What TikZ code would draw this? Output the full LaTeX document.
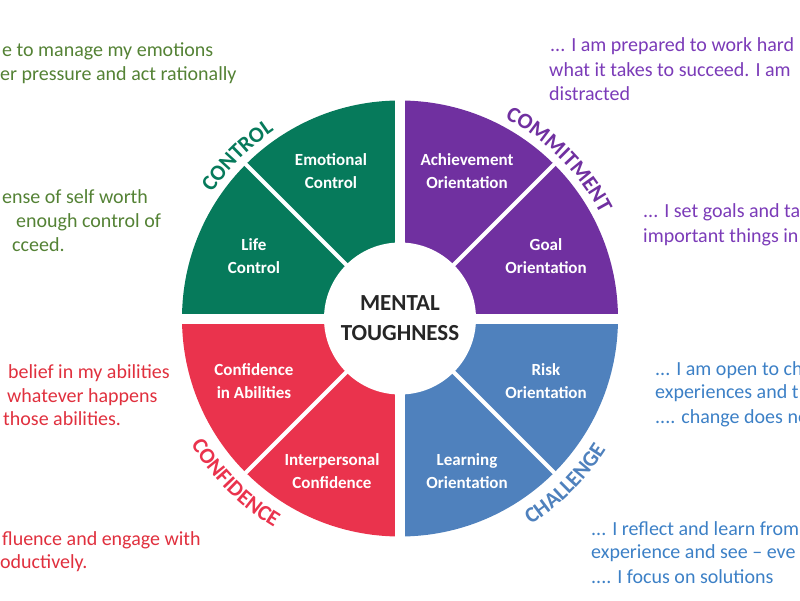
\documentclass[tikz,border=0pt]{standalone}
\usepackage{fontspec}
\setmainfont{Carlito}
\usetikzlibrary{decorations.text}
\definecolor{ctlgreen}{HTML}{067A5B}
\definecolor{cmtpurple}{HTML}{7030A0}
\definecolor{cfdred}{HTML}{EA334D}
\definecolor{chlblue}{HTML}{4F81BD}
\definecolor{txtgreen}{HTML}{548235}
\definecolor{txtred}{HTML}{E0303E}
\definecolor{txtpurple}{HTML}{7B3BB8}
\definecolor{txtblue}{HTML}{3C80C6}
\definecolor{coregray}{HTML}{262626}
\newcommand{\arcfont}{\bfseries\fontsize{22}{22}\selectfont}
\newcommand{\ellip}{...}
\newcommand{\ellipp}{....}

\begin{document}
\begin{tikzpicture}[x=1pt, y=1pt,
  part/.style={text=white, align=center, font=\bfseries\fontsize{17}{22.5}\selectfont, inner sep=0},
  note/.style={anchor=base west, inner sep=0, font=\fontsize{20}{24}\selectfont},
  rim/.style={decorate, decoration={text along path, text align=center, text color=#1}}]
  \useasboundingbox (-400,-281.5) rectangle (400,318.5);

  % quadrants
  \fill[ctlgreen] (0,0) -- (180:218) arc[start angle=180, end angle=90, radius=218] -- cycle;
  \fill[cmtpurple] (0,0) -- (90:218) arc[start angle=90, end angle=0, radius=218] -- cycle;
  \fill[chlblue] (0,0) -- (0:218) arc[start angle=0, end angle=-90, radius=218] -- cycle;
  \fill[cfdred] (0,0) -- (270:218) arc[start angle=270, end angle=180, radius=218] -- cycle;
  \draw[white, line width=10pt] (-220,0) -- (220,0) (0,-220) -- (0,220);
  \foreach \a in {45,135,225,315}
    \draw[white, line width=4pt] (\a:70) -- (\a:220);

  \node[circle, fill=white, minimum size=152pt, inner sep=0, align=center,
        text=coregray, font=\bfseries\fontsize{23}{30}\selectfont] (core) at (0,0) {MENTAL\\TOUGHNESS};

  \node[part] (emo) at (-69,147.5) {Emotional\\Control};
  \node[part] (life) at (-146,62.5) {Life\\Control};
  \node[part] (ach) at (67,147.5) {Achievement\\Orientation};
  \node[part] (goal) at (146,62.5) {Goal\\Orientation};
  \node[part] (abil) at (-146,-62.5) {Confidence\\in Abilities};
  \node[part] (inter) at (-68,-152.5) {Interpersonal\\Confidence};
  \node[part] (risk) at (146,-62.5) {Risk\\Orientation};
  \node[part] (learn) at (67,-152.5) {Learning\\Orientation};

  % labels round the rim
  \path[rim=ctlgreen, decoration={text={|\arcfont|CONTROL}}]
    (180:226) arc[start angle=180, end angle=90, radius=226];
  \path[rim=cmtpurple, decoration={text={|\arcfont|COMMITMENT}}]
    (90:226) arc[start angle=90, end angle=0, radius=226];
  \path[rim=cfdred, decoration={text={|\arcfont|CONFIDENCE}}]
    (180:244) arc[start angle=180, end angle=270, radius=244];
  \path[rim=chlblue, decoration={text={|\arcfont|CHALLENGE}}]
    (270:244) arc[start angle=270, end angle=360, radius=244];

  % statements
  \foreach \x/\y/\t [count=\i] in {-398/261.5/e to manage my emotions, -400/237.5/er pressure and act rationally,
      -398/115.5/ense of self worth, -384/91.5/enough control of, -388/67.5/cceed.}
    \node[note, text=txtgreen] (g\i) at (\x,\y) {\t};
  \foreach \x/\y/\t [count=\i] in {-392/-59.5/belief in my abilities, -393/-83.5/whatever happens,
      -397/-106.5/those abilities., -398/-226.5/fluence and engage with, -400/-249.5/oductively.}
    \node[note, text=txtred] (r\i) at (\x,\y) {\t};
  \foreach \x/\y/\t [count=\i] in {150/266.5/\ellip{} I am prepared to work hard, 149/241.5/what it takes to succeed. I am,
      149/217.5/distracted, 243/101.5/\ellip{} I set goals and ta, 243/76.5/important things in}
    \node[note, text=txtpurple] (p\i) at (\x,\y) {\t};
  \foreach \x/\y/\t [count=\i] in {255/-56.5/\ellip{} I am open to ch, 255/-79.5/experiences and t, 255/-104.5/\ellipp{} change does no,
      191/-216.5/\ellip{} I reflect and learn from, 191/-239.5/experience and see – eve, 191/-264.5/\ellipp{} I focus on solutions}
    \node[note, text=txtblue] (b\i) at (\x,\y) {\t};
\end{tikzpicture}
\end{document}
